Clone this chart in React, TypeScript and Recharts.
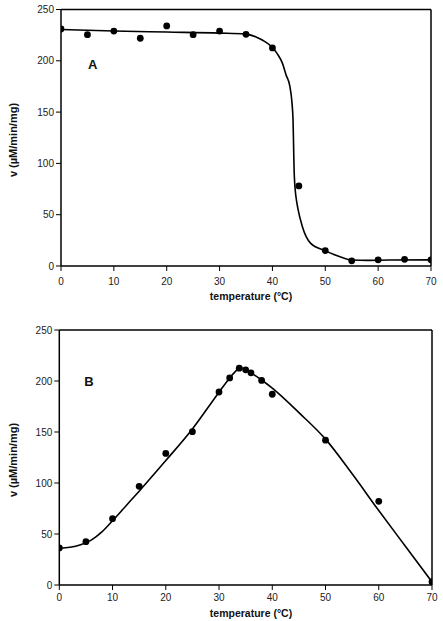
import React from "react";
import {
  ComposedChart,
  Line,
  Scatter,
  XAxis,
  YAxis,
  ReferenceLine,
} from "recharts";

// panel A: activity after pre-incubation at each temperature
const tempsA = [0, 5, 10, 15, 20, 25, 30, 35, 40, 45, 50, 55, 60, 65, 70];
const activityA = [231, 225.5, 229, 222, 234, 225.5, 229, 225.8, 212.5, 78, 15, 5, 6, 6.5, 6];
// fitted curve A
const fitTempsA = [0, 10, 20, 30, 35, 37, 38.5, 40, 40.9, 41.9, 42.6, 43.3, 43.7, 43.9, 43.97, 44.03, 44.1, 44.2, 44.35, 44.55, 44.8, 45.67, 47.25, 49.9, 52, 53.6, 55, 58, 62, 70];
const fitA = [230.5, 229, 228, 227, 226, 223, 219, 213, 207, 197.5, 186, 175, 159, 142, 126, 110, 94, 82, 72, 64, 56.5, 38.3, 22, 15, 10.5, 7.5, 5.8, 5.5, 5.8, 6];

// panel B: activity measured at each temperature
const tempsB = [0, 5, 10, 15, 20, 25, 30, 32, 33.8, 35, 36, 38, 40, 50, 60, 70];
const activityB = [36.3, 42.5, 65, 96.7, 129, 150.3, 189.2, 203, 212.6, 211, 208, 200.6, 187, 142, 82, 3.3];
const fitTempsB = [0, 2, 4, 6, 8, 10, 12.5, 15, 20, 25, 30, 32, 33, 34, 35, 36, 38, 40, 45, 50, 55, 60, 65, 70];
const fitB = [36, 37, 39.5, 44, 52, 63, 77.5, 92, 122, 153, 189, 203, 209, 213, 211.5, 208, 201, 193, 169, 143, 109, 73, 38, 3];

const xTicks = [0, 10, 20, 30, 40, 50, 60, 70];
const yTicks = [0, 50, 100, 150, 200, 250];

const FONT = "'Liberation Sans', Arial, Helvetica, sans-serif";
const tickStyle = { fill: "#222", fontSize: 10, fontFamily: FONT };

const toRows = (xs: number[], ys: number[]) => xs.map((t, i) => ({ t, v: ys[i] }));

const Dot = (props: any) => <circle cx={props.cx} cy={props.cy} r={3.4} fill="#000" />;

interface PanelProps {
  letter: string;
  points: { t: number; v: number }[];
  fit: { t: number; v: number }[];
  height: number;
  margin: { top: number; right: number; left: number; bottom: number };
  xTickMargin: number;
  yTitleY: number;
  xTitleY: number;
  letterX: number;
  letterY: number;
}

function Panel({ letter, points, fit, height, margin, xTickMargin, yTitleY, xTitleY, letterX, letterY }: PanelProps) {
  return (
    <ComposedChart width={443} height={height} margin={margin}>
      <XAxis
        type="number"
        dataKey="t"
        domain={[0, 70]}
        ticks={xTicks}
        tick={tickStyle}
        tickSize={5}
        tickMargin={xTickMargin}
        height={30}
        axisLine={{ stroke: "#000", strokeWidth: 1.5 }}
        tickLine={{ stroke: "#000", strokeWidth: 1 }}
        allowDataOverflow
      />
      <YAxis
        type="number"
        dataKey="v"
        domain={[0, 250]}
        ticks={yTicks}
        tick={tickStyle}
        tickSize={5}
        tickMargin={2}
        width={40}
        axisLine={{ stroke: "#000", strokeWidth: 1.5 }}
        tickLine={{ stroke: "#000", strokeWidth: 1 }}
      />
      <ReferenceLine y={250} stroke="#000" strokeWidth={1.5} />
      <ReferenceLine x={70} stroke="#000" strokeWidth={1.5} />
      <Line
        data={fit}
        dataKey="v"
        type="monotone"
        stroke="#000"
        strokeWidth={1.6}
        dot={false}
        activeDot={false}
        isAnimationActive={false}
      />
      <Scatter data={points} dataKey="v" fill="#000" shape={Dot} isAnimationActive={false} />
      <text
        x={13}
        y={yTitleY}
        transform={`rotate(-90 13 ${yTitleY})`}
        textAnchor="middle"
        dominantBaseline="central"
        fontFamily={FONT}
        fontWeight="bold"
        fontSize={11}
        fill="#111"
      >
        v (µM/min/mg)
      </text>
      <text
        x={251}
        y={xTitleY}
        textAnchor="middle"
        dominantBaseline="central"
        fontFamily={FONT}
        fontWeight="bold"
        fontSize={10.5}
        fill="#111"
      >
        temperature (°C)
      </text>
      <text x={letterX} y={letterY} textAnchor="middle" fontFamily={FONT} fontWeight="bold" fontSize={13} fill="#111">
        {letter}
      </text>
    </ComposedChart>
  );
}

export default function App() {
  return (
    <div style={{ position: "absolute", left: 0, top: 0, width: 443, height: 621, background: "#fff" }}>
      <Panel
        letter="A"
        points={toRows(tempsA, activityA)}
        fit={toRows(fitTempsA, fitA)}
        height={310}
        margin={{ top: 9.5, right: 12, left: 21, bottom: 14 }}
        xTickMargin={7}
        yTitleY={140}
        xTitleY={296}
        letterX={92.6}
        letterY={68.7}
      />
      <Panel
        letter="B"
        points={toRows(tempsB, activityB)}
        fit={toRows(fitTempsB, fitB)}
        height={311}
        margin={{ top: 20, right: 11, left: 19.3, bottom: 6 }}
        xTickMargin={4}
        yTitleY={150}
        xTitleY={302.7}
        letterX={89}
        letterY={76}
      />
    </div>
  );
}
